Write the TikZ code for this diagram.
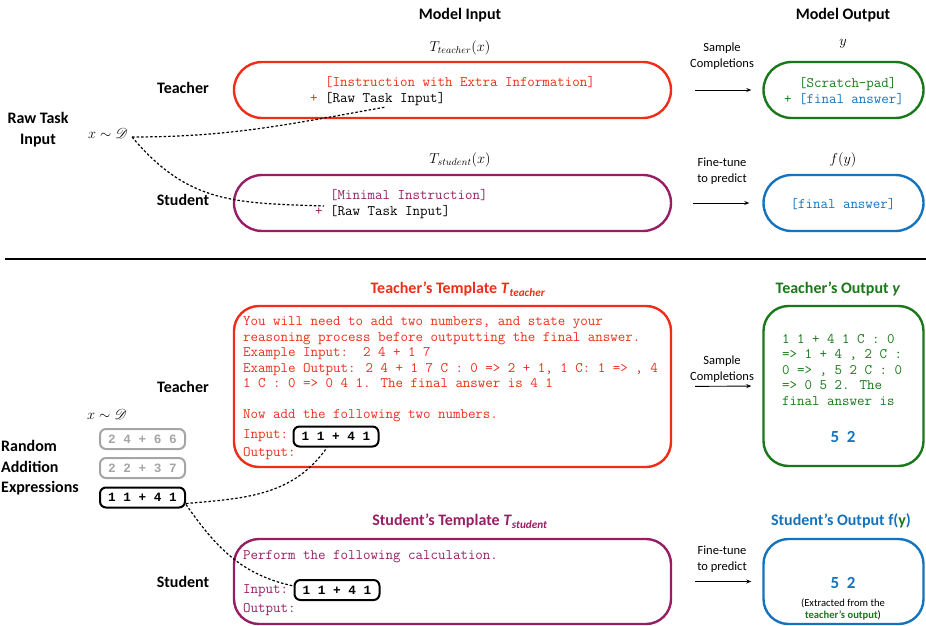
\documentclass[tikz,border=0pt]{standalone}
\usepackage{fontspec}
\setmainfont{Carlito}
\newfontfamily\exprmono{Liberation Mono}
\usepackage{mathrsfs}
\usetikzlibrary{arrows.meta}

\definecolor{tred}{RGB}{240,45,25}
\definecolor{spurple}{RGB}{150,30,100}
\definecolor{ogreen}{RGB}{25,120,25}
\definecolor{oblue}{RGB}{20,115,190}
\definecolor{exgray}{RGB}{165,165,165}

\begin{document}
\begin{tikzpicture}[x=1pt, y=-1pt, >={Stealth[length=5pt, width=4pt]},
  lbl/.style = {font=\fontsize{16}{21}\selectfont\bfseries, align=center},
  note/.style = {font=\fontsize{12.5}{16}\selectfont, align=center},
  mathlbl/.style = {font=\fontsize{14}{16}\selectfont},
  code/.style = {font=\fontsize{14.55}{15.5}\selectfont\ttfamily, align=left, inner sep=0pt, anchor=west},
  pill/.style = {draw, line width=2.4pt, rounded corners=28pt, minimum height=56pt},
  card/.style = {draw, line width=2.4pt, rounded corners=25pt},
  expr/.style = {draw, line width=2pt, rounded corners=6pt, minimum width=85pt, minimum height=20pt, inner sep=0pt, font=\fontsize{12.7}{15}\selectfont\exprmono\bfseries},
  link/.style = {line width=1.2pt, dash pattern=on 2.5pt off 2pt},
  flow/.style = {->, line width=0.9pt}]
\useasboundingbox (0,0) rectangle (926,626);

\node[lbl] (hin) at (460,15) {Model Input};
\node[lbl] (hout) at (843,15) {Model Output};
\node[lbl] (raw) at (38,130) {Raw Task\\Input};
\node[mathlbl, inner sep=4pt] (xd) at (108,133) {$x\sim\mathscr{D}$};
\node[lbl] (tea1) at (183,88) {Teacher};
\node[lbl] (stu1) at (183,200) {Student};

\node[mathlbl] (tmath) at (460,48) {$T_{teacher}(x)$};
\node[pill, draw=tred, minimum width=437pt] (tin) at (452.5,90) {};
\node[code] (tintxt) at (310,91) {\phantom{+ }{\color{tred}[Instruction with Extra Information]}\\{\color{tred}+} [Raw Task Input]};
\coordinate (tinraw) at (386,107);

\node[mathlbl] (smath) at (460,160) {$T_{student}(x)$};
\node[pill, draw=spurple, minimum width=437pt] (sin) at (452.5,203) {};
\node[code] (sintxt) at (315,204) {\phantom{+ }{\color{spurple}[Minimal Instruction]}\\{\color{spurple}+} [Raw Task Input]};
\coordinate (sinraw) at (324,206);

\node[note] (samp1) at (722,56) {Sample\\Completions};
\node[note] (fine1) at (722,171) {Fine-tune\\to predict};

\node[mathlbl] (ymath) at (843,44) {$y$};
\node[pill, draw=ogreen, minimum width=160pt] (tout) at (843.5,90) {};
\node[code, anchor=center] (touttxt) at (844,91) {\phantom{+ }{\color{ogreen}[Scratch-pad]}\\{\color{ogreen}+} {\color{oblue}[final answer]}};

\node[mathlbl] (fmath) at (843,160) {$f(y)$};
\node[pill, draw=oblue, minimum width=160pt] (sout) at (843.5,203) {};
\node[code, anchor=center, text=oblue] (souttxt) at (843,204) {[final answer]};

\draw[flow] (tin.east) [shorten <=23pt, shorten >=11pt] -- (tout.west);
\draw[flow] (sin.east) [shorten <=21pt, shorten >=13pt] -- (sout.west);
\draw[link] ([yshift=-4pt]xd.east) to[out=0, in=190] (tinraw);
\draw[link] ([yshift=-4pt]xd.east) to[out=-50, in=178, looseness=1.1] (sinraw);

\draw[line width=2pt] (5,259) -- (926,259);

\node[lbl, text=tred] (ttplh) at (458,289) {Teacher’s Template \textit{T}\textsubscript{\textit{teacher}}};
\node[card, draw=tred, minimum width=437pt, minimum height=161pt] (ttpl) at (452.5,386.5) {};
\node[code, text=tred] (ttpltxt) at (243,369.5) {You will need to add two numbers, and state your\\reasoning process before outputting the final answer.\\Example Input:\ \ 2 4 + 1 7\\Example Output: 2 4 + 1 7 C : 0 => 2 + 1, 1 C: 1 => , 4\\1 C : 0 => 0 4 1. The final answer is 4 1\\ \\Now add the following two numbers.};
\node[code, text=tred] (tinp) at (243,436) {Input:};
\node[expr] (tq) at (336,436.5) {1 1 + 4 1};
\node[code, text=tred] (toutp) at (243,454) {Output:};

\node[lbl] (tea2) at (183,387) {Teacher};
\node[mathlbl, inner sep=4pt] (xd2) at (107,414) {$x\sim\mathscr{D}$};
\node[lbl, align=left, anchor=west, inner sep=0pt, font=\fontsize{16}{20.5}\selectfont\bfseries] (rand) at (1,468) {Random\\Addition\\Expressions};
\node[expr, draw=exgray, text=exgray] (ex1) at (142.5,439) {2 4 + 6 6};
\node[expr, draw=exgray, text=exgray] (ex2) at (142.5,468) {2 2 + 3 7};
\node[expr] (ex3) at (142.5,497.5) {1 1 + 4 1};

\node[lbl, text=ogreen] (toh) at (838,289) {Teacher’s Output \textit{y}};
\node[card, draw=ogreen, minimum width=160pt, minimum height=160pt] (tout2) at (843.5,386) {};
\node[code, text=ogreen] (tout2txt) at (782,369.5) {1 1 + 4 1 C : 0\\=> 1 + 4 , 2 C :\\0 => , 5 2 C : 0\\=> 0 5 2. The\\final answer is};
\node[lbl, text=oblue, font=\fontsize{17}{21}\selectfont\bfseries] (tans) at (843,437) {5\hspace{0.45em}2};
\node[note] (samp2) at (722,369) {Sample\\Completions};
\draw[flow] (ttpl.east) [shorten <=23pt, shorten >=11pt] -- (tout2.west);

\node[lbl, text=spurple] (stplh) at (460,521) {Student’s Template \textit{T}\textsubscript{\textit{student}}};
\node[card, draw=spurple, minimum width=437pt, minimum height=85pt] (stpl) at (452.5,581.5) {};
\node[code, text=spurple] (stpltxt) at (243,557) {Perform the following calculation.};
\node[code, text=spurple] (sinp) at (243,591) {Input:};
\node[expr] (sq) at (337,590) {1 1 + 4 1};
\node[code, text=spurple] (soutp) at (243,610) {Output:};
\node[lbl] (stu2) at (183,582) {Student};

\node[lbl, text=oblue] (soh) at (841,521) {Student’s Output f({\color{ogreen}y})};
\node[card, draw=oblue, minimum width=160pt, minimum height=85pt] (sout2) at (843.5,581.5) {};
\node[lbl, text=oblue, font=\fontsize{17}{21}\selectfont\bfseries] (sans) at (843,583) {5\hspace{0.45em}2};
\node[note, font=\fontsize{10.6}{12.5}\selectfont] (sext) at (843,609.5) {(Extracted from the\\{\color{ogreen}\bfseries teacher’s output})};
\node[note] (fine2) at (722,559) {Fine-tune\\to predict};
\draw[flow] (stpl.east) [shorten <=23pt, shorten >=11pt] -- (sout2.west);

\draw[link] ([yshift=-6pt]ex3.east) to[out=5, in=235] ([xshift=-9pt]tq.south);
\draw[link] ([yshift=-7pt]ex3.east) to[out=-55, in=168] ([yshift=4pt]sq.west);
\end{tikzpicture}
\end{document}
